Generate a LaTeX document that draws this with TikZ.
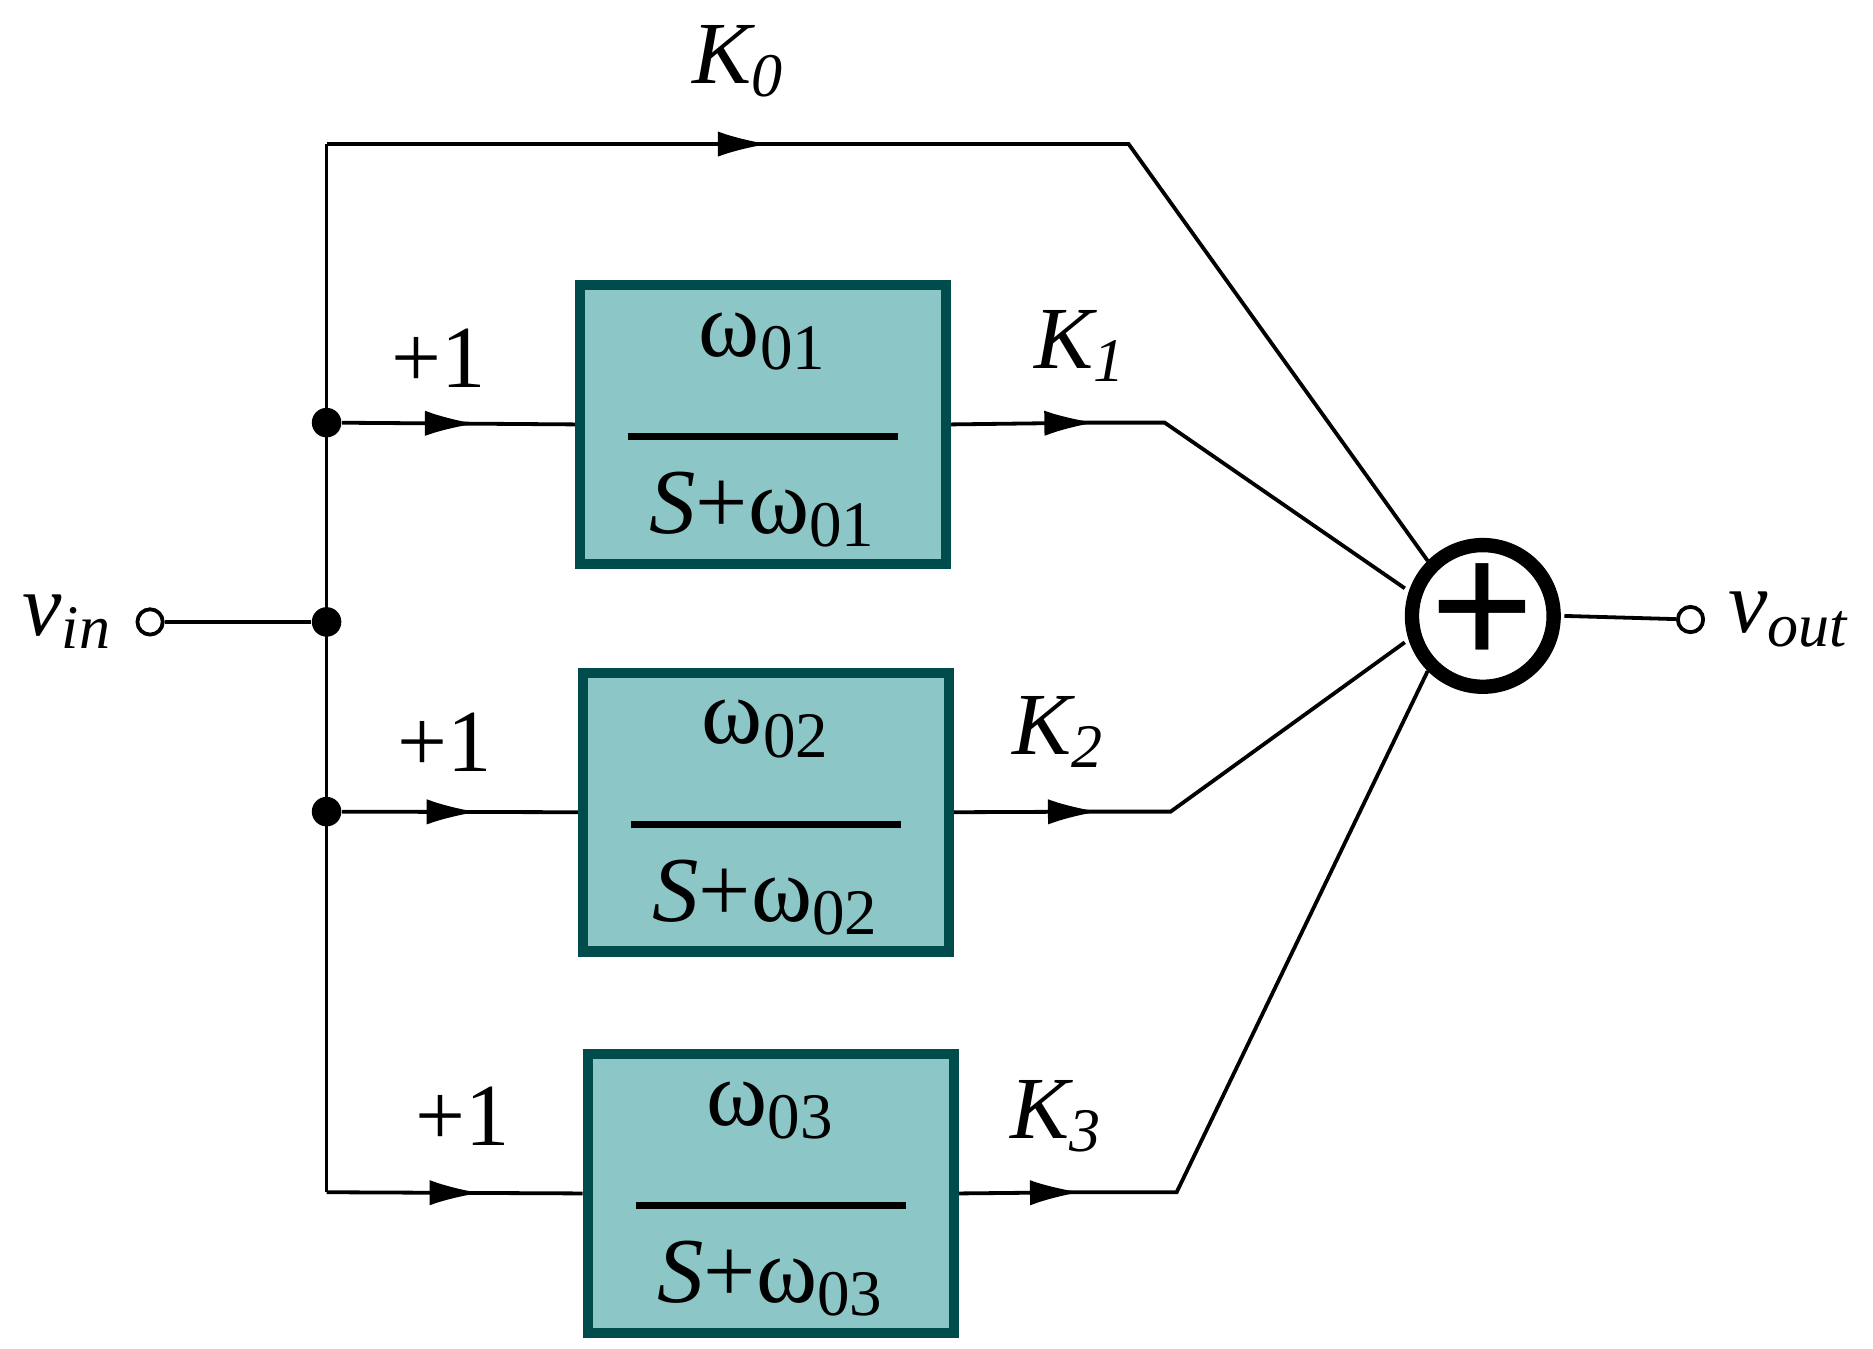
\documentclass[tikz,border=0pt]{standalone}
\usepackage{fontspec}
\setmainfont{Liberation Serif}
\usetikzlibrary{arrows.meta,calc}
\tikzset{
  wire/.style={line width=0.9pt},
  flow/.style={wire,-{Latex[length=12pt,width=6pt]}},
  blk/.style={draw=teal!60!black,line width=2.4pt,fill=teal!45!white,minimum width=3.05cm,minimum height=2.18cm,inner sep=0pt},
  dot/.style={circle,fill=black,inner sep=0pt,minimum size=7pt},
  term/.style={circle,draw,fill=white,line width=0.9pt,inner sep=0pt,minimum size=6pt},
  lbl/.style={font=\fontsize{21}{24}\selectfont},
}
\newcommand{\tfrac}[1]{%
  \begin{tabular}{c}ω\textsubscript{#1}\\[-4pt]\rule{2.25cm}{1.7pt}\\[-2pt]\textit{S}+ω\textsubscript{#1}\end{tabular}}
\begin{document}
\begin{tikzpicture}
  \useasboundingbox (0,0) rectangle (15.6,11.23);
  % terminals and summing junction
  \node[term] (in) at (1.25,6.05) {};
  \node[lbl,left=2pt] at (in.west) {\textit{v\textsubscript{in}}};
  \node[circle,draw,line width=3.4pt,minimum size=1.18cm,inner sep=0pt] (sum) at (12.35,6.1) {};
  \node[font=\fontsize{44}{44}\selectfont\bfseries] at (sum) {+};
  \node[term] (out) at (14.08,6.07) {};
  \node[lbl,right=2pt] at (out.east) {\textit{v\textsubscript{out}}};
  % dots on the bus
  \node[dot] (d0) at (2.72,6.05) {};
  \node[dot] (d1) at (2.72,7.71) {};
  \node[dot] (d2) at (2.72,4.47) {};
  \coordinate (top) at (2.72,10.03);
  \coordinate (bot) at (2.72,1.30);
  % filter blocks
  \node[blk,font=\fontsize{22}{24}\selectfont] (b1) at (6.355,7.695) {\tfrac{01}};
  \node[blk,font=\fontsize{22}{24}\selectfont] (b2) at (6.38,4.465) {\tfrac{02}};
  \node[blk,font=\fontsize{22}{24}\selectfont] (b3) at (6.42,1.29) {\tfrac{03}};
  % bus
  \draw[wire] (in) -- (d0);
  \draw[wire] (top) -- (bot);
  % K0 path
  \draw[flow] (top) -- (6.4,10.03);
  \draw[wire] (6.3,10.03) -- (9.4,10.03) coordinate (k0) -- (sum.north west);
  \node[lbl] at (6.15,10.72) {\textit{K\textsubscript{0}}};
  % inputs
  \foreach \b/\d/\l in {b1/d1/7.71,b2/d2/4.47,b3/bot/1.30}{
    \draw[flow] (\d) -- ($(\d)!0.6!(\b.west)$);
    \draw[wire] ($(\d)!0.55!(\b.west)$) -- (\b.west);
  }
  \node[lbl] at (3.65,8.25) {+1};
  \node[lbl] at (3.7,5.05) {+1};
  \node[lbl] at (3.85,1.93) {+1};
  % outputs
  \draw[flow] (b1.east) -- (9.12,7.71);
  \draw[wire] (9.0,7.71) -- (9.7,7.71) -- (sum.west |- 11.7,6.33);
  \draw[flow] (b2.east) -- (9.15,4.47);
  \draw[wire] (9.0,4.47) -- (9.75,4.47) -- (11.7,5.88);
  \draw[flow] (b3.east) -- (9.0,1.30);
  \draw[wire] (8.9,1.30) -- (9.8,1.30) -- (sum.south west);
  \node[lbl] at (9.0,8.35) {\textit{K\textsubscript{1}}};
  \node[lbl] at (8.82,5.13) {\textit{K\textsubscript{2}}};
  \node[lbl] at (8.8,1.93) {\textit{K\textsubscript{3}}};
  \draw[wire] (sum) ++(0.68,0) -- (out);
\end{tikzpicture}
\end{document}
